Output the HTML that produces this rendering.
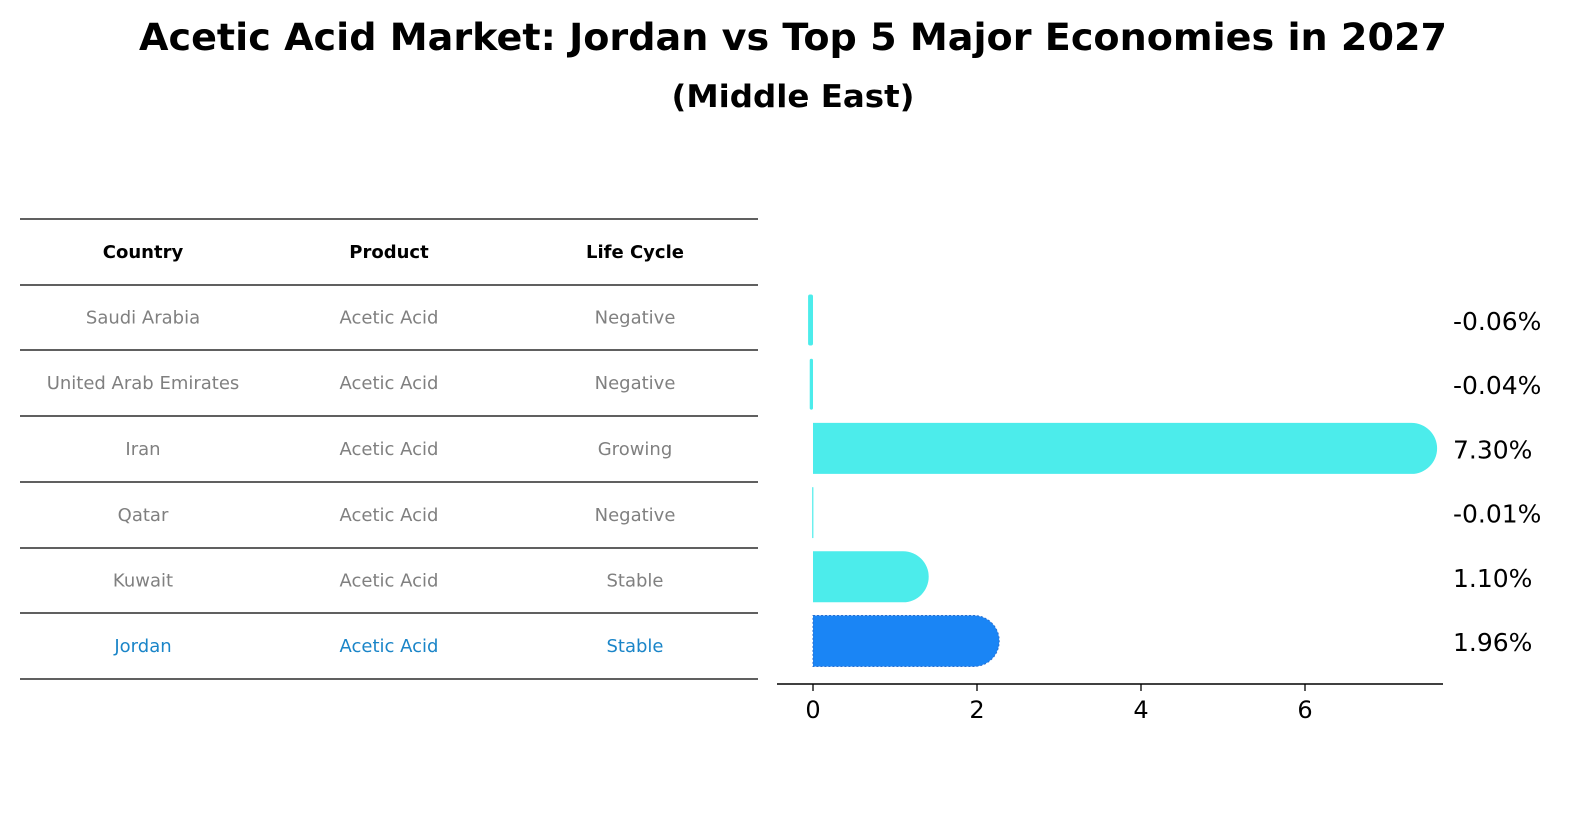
<!DOCTYPE html>
<html><head><meta charset="utf-8"><style>
body{margin:0;background:#fff}
svg{display:block;font-family:"DejaVu Sans","Liberation Sans",sans-serif}
</style></head><body>
<svg width="1596" height="823" viewBox="0 0 1596 823">
<text x="793" y="50" text-anchor="middle" font-size="37" font-weight="bold" textLength="1308" lengthAdjust="spacingAndGlyphs">Acetic Acid Market: Jordan vs Top 5 Major Economies in 2027</text>
<text x="793" y="107" text-anchor="middle" font-size="31" font-weight="bold" textLength="243" lengthAdjust="spacingAndGlyphs">(Middle East)</text>
<g id="table"></g>
<g id="plot"></g>
</svg>
<script>
const countries=["Saudi Arabia","United Arab Emirates","Iran","Qatar","Kuwait","Jordan"];
const products=["Acetic Acid","Acetic Acid","Acetic Acid","Acetic Acid","Acetic Acid","Acetic Acid"];
const lifeCycles=["Negative","Negative","Growing","Negative","Stable","Stable"];
const growth=[-0.06,-0.04,7.30,-0.01,1.10,1.96];
const xTicks=[0,2,4,6];
const NS="http://www.w3.org/2000/svg";
function mk(tag,attrs,parent){const e=document.createElementNS(NS,tag);for(const k in attrs)e.setAttribute(k,attrs[k]);parent.appendChild(e);return e;}
const table=document.getElementById('table');
const lineYs=[219,285,350,416,482,548,613,679];
const colX=[143,389,635];
for(const y of lineYs){const l=mk('line',{x1:20,x2:758,y1:y,y2:y,stroke:'#000','stroke-width':1.2},table);

}
const headers=["Country","Product","Life Cycle"];
headers.forEach((h,i)=>{const t=mk('text',{x:colX[i],y:258,'text-anchor':'middle','font-size':18,'font-weight':'bold'},table);t.textContent=h;

});
countries.forEach((c,r)=>{const y=(lineYs[r+1]+lineYs[r+2])/2+6;const col=c==="Jordan"?"#1a85c8":"#808080";
[c,products[r],lifeCycles[r]].forEach((v,i)=>{const t=mk('text',{x:colX[i],y:y,'text-anchor':'middle','font-size':18,fill:col},table);t.textContent=v;

});});
const plot=document.getElementById('plot');
const x0=813,pxPer=82;
const xs=v=>x0+v*pxPer;
const rowY=i=>320+i*64.2;
const bh=51;
growth.forEach((v,i)=>{const cy=rowY(i);const color=countries[i]==="Jordan"?"#1a85f5":"#4ceceb";
let d;
if(Math.abs(v)<0.1){const w=Math.abs(xs(v)-x0);const xa=Math.min(xs(v),x0);
d=mk('rect',{x:xa,y:cy-bh/2,width:Math.max(w,1.2),height:bh,rx:Math.min(w/2,2),fill:color},plot);}
else{const xe=xs(v),r=bh/2;
d=mk('path',{d:`M${x0},${cy-r}H${xe}A${r},${r} 0 0 1 ${xe},${cy+r}H${x0}Z`,fill:color},plot);
if(countries[i]==="Jordan"){d.setAttribute('stroke','#2a6fd0');d.setAttribute('stroke-dasharray','2,2');d.setAttribute('stroke-width','1');}}


const t=mk('text',{x:1453,y:cy+10,'font-size':25},plot);t.textContent=v.toFixed(2)+'%';

});
const ax=mk('line',{x1:777,x2:1443,y1:684,y2:684,stroke:'#000','stroke-width':1.4},plot);


xTicks.forEach(v=>{const tk=mk('line',{x1:xs(v),x2:xs(v),y1:684,y2:691,stroke:'#000','stroke-width':1.3},plot);


const t=mk('text',{x:xs(v),y:718,'text-anchor':'middle','font-size':24},plot);t.textContent=v;

});
</script>
</body></html>
